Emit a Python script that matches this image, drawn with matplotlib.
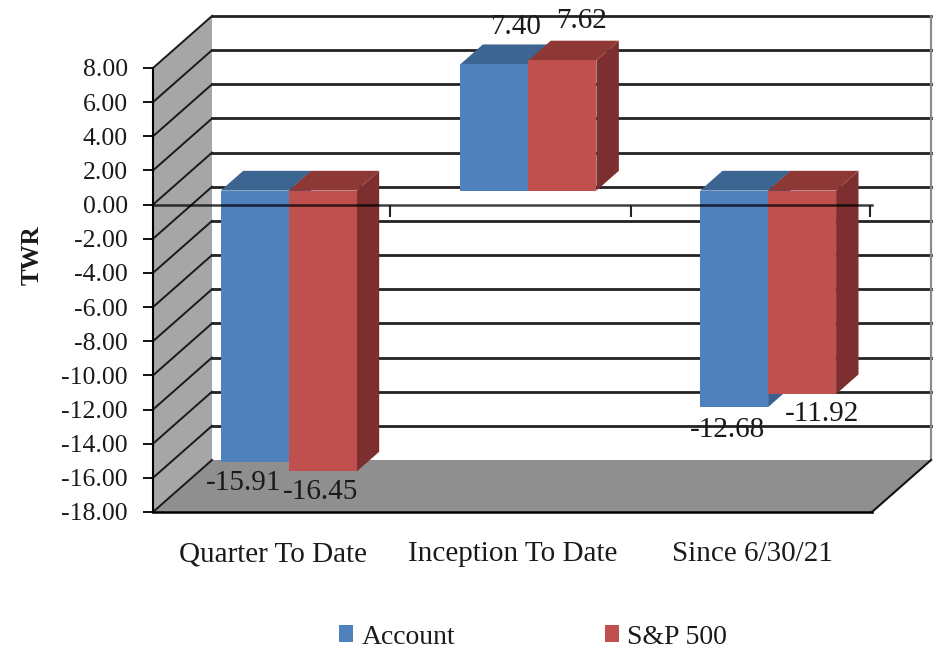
import matplotlib
matplotlib.use("Agg")
import matplotlib.pyplot as plt
from matplotlib.patches import Polygon, Patch

categories = ["Quarter To Date", "Inception To Date", "Since 6/30/21"]
account = [-15.91, 7.40, -12.68]
sp500 = [-16.45, 7.62, -11.92]
series_names = ["Account", "S&P 500"]
yticks = list(range(-18, 10, 2))

# label offsets from the bar end, in pixels
account_off = [(-11, -21), (21, 37), (-7, -23)]
sp500_off = [(-2, -21), (19, 39), (20, -20)]

W, H = 939, 650
plt.rcParams["font.family"] = ["Liberation Serif", "DejaVu Serif"]
fig = plt.figure(figsize=(W / 100, H / 100), dpi=100)
ax = fig.add_axes([153 / W, 1 - 512 / H, (872 - 153) / W, (512 - 68) / H])
ax.set_xlim(0, 3)
ax.set_ylim(-18, 8)

# depth of the fake 3d box, in data units
DX = 59 / (719 / 3)
DY = 52 / (444 / 26)
FRONT = 0.27
BACK = 0.65
bar_w = 68 / (719 / 3)


def pt(x, y, d):
    return (x + d * DX, y + d * DY)


def poly(points, color, z):
    ax.add_patch(Polygon(points, closed=True, facecolor=color, edgecolor="none", clip_on=False, zorder=z))


def box(x0, x1, val, front, side, top, z):
    if val < 0:
        y_top, y_bot = 0, val
    else:
        y_top, y_bot = val, 0
    poly([pt(x1, y_top, FRONT), pt(x1, y_top, BACK), pt(x1, y_bot, BACK), pt(x1, y_bot, FRONT)], side, z)
    poly([pt(x0, y_top, FRONT), pt(x0, y_top, BACK), pt(x1, y_top, BACK), pt(x1, y_top, FRONT)], top, z)
    poly([pt(x0, y_top, FRONT), pt(x1, y_top, FRONT), pt(x1, y_bot, FRONT), pt(x0, y_bot, FRONT)], front, z + 0.1)


# walls and floor
poly([pt(0, 8, 0), pt(0, 8, 1), pt(0, -18, 1), pt(0, -18, 0)], "#a6a6a6", 1)
poly([pt(0, -18, 0), pt(0, -18, 1), pt(3, -18, 1), pt(3, -18, 0)], "#8f8f8f", 1.5)

for t in yticks:
    ls = [pt(0, t, 0), pt(0, t, 1)]
    ax.plot([p[0] for p in ls], [p[1] for p in ls], color="#1a1a1a", lw=1.4, clip_on=False, zorder=2)
    if t > -18:
        ls = [pt(0, t, 1), pt(3, t, 1)]
        ax.plot([p[0] for p in ls], [p[1] for p in ls], color="#222222", lw=2.0, clip_on=False, zorder=2)

ls = [pt(3, 8, 1), pt(3, -18, 1)]
ax.plot([p[0] for p in ls], [p[1] for p in ls], color="#8c8c8c", lw=1.6, clip_on=False, zorder=2)
ls = [pt(3, -18, 0), pt(3, -18, 1)]
ax.plot([p[0] for p in ls], [p[1] for p in ls], color="#111111", lw=1.5, clip_on=False, zorder=2)

# bars
for i in range(3):
    c = i + 0.5
    box(c - bar_w, c, account[i], "#4f81bd", "#3a6090", "#3c6591", 3 + i)
    box(c, c + bar_w, sp500[i], "#c0504d", "#7c2f2e", "#8e3836", 3.3 + i)

# zero line and its ticks, on top of the bars
ax.plot([0, 3], [0, 0], color="black", lw=1.8, alpha=0.75, clip_on=False, zorder=8)
ax.vlines([0.99, 1.995, 2.99], -0.7, 0, color="#222222", lw=1.5, clip_on=False, zorder=8)

# data labels
for i in range(3):
    c = i + 0.5
    for vals, off, cx in ((account, account_off, c - bar_w / 2), (sp500, sp500_off, c + bar_w / 2)):
        x, y = pt(cx, vals[i], FRONT)
        ax.annotate("%.2f" % vals[i], (x, y), xytext=(off[i][0] * 0.72, off[i][1] * 0.72), textcoords="offset points",
                    ha="center", va="center", fontsize=21, color="#1a1a1a", zorder=9, annotation_clip=False)

ax.patch.set_visible(False)
for s in ["top", "right"]:
    ax.spines[s].set_visible(False)
ax.spines["left"].set_linewidth(1.5)
ax.spines["bottom"].set_linewidth(1.8)
ax.spines["left"].set_zorder(7)
ax.spines["bottom"].set_zorder(7)

ax.set_yticks(yticks)
ax.set_yticklabels(["%.2f" % t for t in yticks], fontsize=18.5, color="#1a1a1a")
ax.tick_params(axis="y", length=7, width=1.3, pad=11)
ax.set_xticks([0.5, 1.5, 2.5])
ax.set_xticklabels(categories, fontsize=21, color="#1a1a1a")
ax.tick_params(axis="x", length=0, pad=21)

fig.text(32 / W, 1 - 255 / H, "TWR", rotation=90, ha="center", va="center", fontsize=18, fontweight="bold", color="#1a1a1a")

handles = [Patch(facecolor="#4f81bd"), Patch(facecolor="#c0504d")]
fig.legend(handles, series_names, loc="center", bbox_to_anchor=(533 / W, 1 - 637 / H), ncols=2, frameon=False,
           fontsize=20, handlelength=0.5, handleheight=0.55, handletextpad=0.3, columnspacing=5.4, labelcolor="#1a1a1a")

fig.savefig("out.png", dpi=100)
